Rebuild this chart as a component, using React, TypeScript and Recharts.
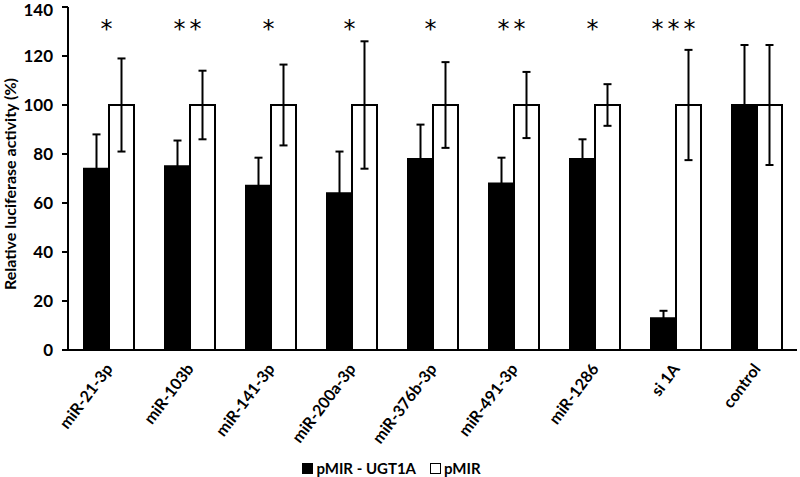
import { Bar, BarChart, ErrorBar, Legend, ReferenceDot, XAxis, YAxis } from "recharts";

const categories = [
  "miR-21-3p",
  "miR-103b",
  "miR-141-3p",
  "miR-200a-3p",
  "miR-376b-3p",
  "miR-491-3p",
  "miR-1286",
  "si 1A",
  "control",
];
const ugtValues = [74, 75, 67, 64, 78, 68, 78, 13, 100];
const ugtErrors = [14, 10.5, 11.5, 17, 14, 10.5, 8, 3, 24.5];
const pmirValues = [100, 100, 100, 100, 100, 100, 100, 100, 100];
const pmirErrors = [19, 14, 16.5, 26, 17.5, 13.5, 8.5, 22.5, 24.5];
const stars = ["*", "**", "*", "*", "*", "**", "*", "***", ""];
const starLevel = 133;
const yTicks = [0, 20, 40, 60, 80, 100, 120, 140];

const FONT = "Lato, 'Open Sans', sans-serif";

const data = categories.map((name, i) => ({
  name,
  ugt: ugtValues[i],
  ugtErr: ugtErrors[i],
  pmir: pmirValues[i],
  pmirErr: pmirErrors[i],
}));

function StarLabel(props: any) {
  const { viewBox, value } = props;
  const cx = viewBox.x + viewBox.width / 2;
  const cy = viewBox.y + viewBox.height / 2;
  return (
    <text
      x={cx}
      y={cy + 13}
      textAnchor="middle"
      fontFamily="'DejaVu Sans', sans-serif"
      fontSize={24}
      letterSpacing={4}
      fill="#000"
    >
      {value}
    </text>
  );
}

function YLabel() {
  return (
    <text
      transform="translate(16,184) rotate(-90)"
      textAnchor="middle"
      fontFamily={FONT}
      fontWeight="bold"
      fontSize={16}
      fill="#000"
    >
      Relative luciferase activity (%)
    </text>
  );
}

function XTick(props: any) {
  const { x, y, payload } = props;
  return (
    <text
      x={x + 5}
      y={y + 11}
      transform={`rotate(-53 ${x + 5} ${y + 11})`}
      textAnchor="end"
      fontFamily={FONT}
      fontWeight="bold"
      fontSize={16}
      fill="#000"
    >
      {payload.value}
    </text>
  );
}

function LegendBox() {
  const item = (fill: string, label: string) => (
    <span style={{ display: "inline-flex", alignItems: "center", marginRight: 14 }}>
      <span
        style={{
          display: "inline-block",
          width: 9,
          height: 9,
          background: fill,
          border: "1.5px solid #000",
          marginRight: 3,
        }}
      />
      {label}
    </span>
  );
  return (
    <div
      style={{
        height: 24,
        display: "flex",
        justifyContent: "center",
        alignItems: "center",
        fontFamily: FONT,
        fontWeight: "bold",
        fontSize: 15,
        color: "#000",
        paddingTop: 3,
      }}
    >
      {item("#000", "pMIR - UGT1A")}
      {item("#fff", "pMIR")}
    </div>
  );
}

export default function App() {
  return (
    <div style={{ position: "absolute", left: 0, top: 0, width: 800, height: 477, background: "#fff" }}>
      <BarChart
        width={800}
        height={477}
        data={data}
        margin={{ top: 7, right: 3, left: 0, bottom: 0 }}
        barGap={0}
        barSize={25}
        style={{ fontFamily: FONT }}
      >
        <XAxis
          dataKey="name"
          interval={0}
          tickLine={false}
          axisLine={{ stroke: "#000", strokeWidth: 2 }}
          height={103}
          tick={<XTick />}
        />
        <YAxis
          domain={[0, 140]}
          ticks={yTicks}
          width={68}
          tickSize={6}
          tickMargin={9}
          axisLine={{ stroke: "#000", strokeWidth: 2 }}
          tickLine={{ stroke: "#000", strokeWidth: 2 }}
          tick={{ fill: "#000", fontWeight: "bold", fontSize: 17, fontFamily: FONT }}
          label={<YLabel />}
        />
        <Legend verticalAlign="bottom" height={24} content={() => <LegendBox />} />
        <Bar dataKey="ugt" name="pMIR - UGT1A" fill="#000" stroke="#000" strokeWidth={2} isAnimationActive={false}>
          <ErrorBar dataKey="ugtErr" width={4} stroke="#000" strokeWidth={2} />
        </Bar>
        <Bar dataKey="pmir" name="pMIR" fill="#fff" stroke="#000" strokeWidth={2} isAnimationActive={false}>
          <ErrorBar dataKey="pmirErr" width={4} stroke="#000" strokeWidth={2} />
        </Bar>
        {categories.map((c, i) =>
          stars[i] ? (
            <ReferenceDot
              key={c}
              x={c}
              y={starLevel}
              r={1}
              fill="none"
              stroke="none"
              label={<StarLabel value={stars[i]} />}
            />
          ) : null
        )}
      </BarChart>
    </div>
  );
}
